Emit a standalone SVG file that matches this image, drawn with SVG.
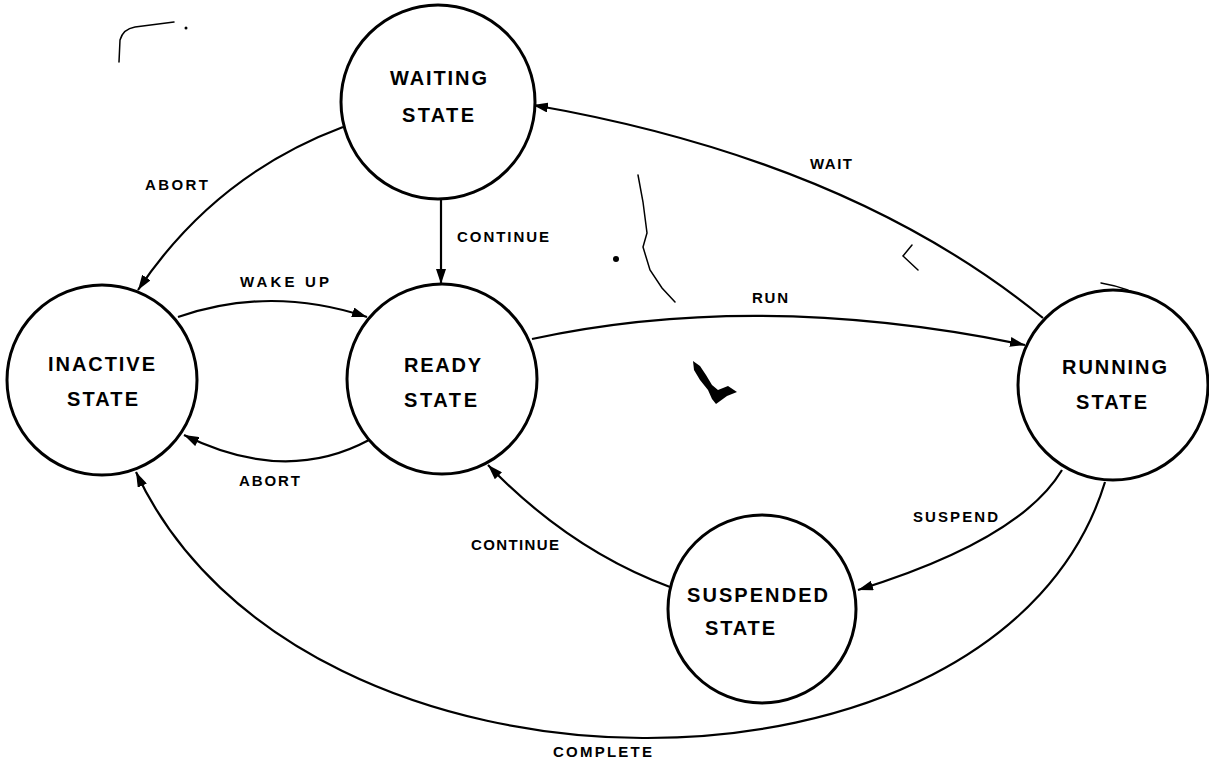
<svg xmlns="http://www.w3.org/2000/svg" width="1209" height="763" viewBox="0 0 1209 763">
  <defs>
    <marker id="arrow" markerUnits="userSpaceOnUse" markerWidth="16" markerHeight="10" refX="15" refY="5" orient="auto">
      <path d="M0,0 L15,5 L0,10 z" fill="#000"/>
    </marker>
    <style>
      .node circle { fill: #fff; stroke: #000; stroke-width: 3; }
      .node text { font-family: "Liberation Sans", Arial, sans-serif; font-size: 20px; font-weight: bold; fill: #000; }
      .edge { fill: none; stroke: #000; stroke-width: 2.2; marker-end: url(#arrow); }
      .label { font-family: "Liberation Sans", Arial, sans-serif; font-size: 15px; font-weight: bold; fill: #000; }
      .mark { fill: none; stroke: #000; stroke-width: 1.5; stroke-linecap: round; }
    </style>
  </defs>
  <rect width="1209" height="763" fill="#fff"/>

  <g id="scan-marks">
    <path class="mark" d="M119,62 L120,40 Q123,29 135,27 L174,22" stroke-width="2.5"/>
    <circle cx="186" cy="28" r="1.5" fill="#000"/>
    <path class="mark" d="M638,175 L643,202 L647,233 L643,247 L650,270 L662,288 L675,302" stroke-width="1.2"/>
    <circle cx="616" cy="259" r="3" fill="#000"/>
    <path class="mark" d="M912,245 L903,256 L918,270"/>
    <path d="M693,361 L700,366 L706,375 L712,385 L718,390 L728,386 L737,392 L727,396 L716,404 L712,399 L708,390 L700,380 L694,370 z" fill="#000"/>
    <path class="mark" d="M1101,283 Q1130,288 1147,300 L1193,372" stroke-width="2"/>
    <circle cx="1193" cy="371" r="2.5" fill="#000"/>
  </g>

  <g id="connectors">
    <path id="e-abort-top" class="edge" d="M343,127 Q215,175 138,290"/>
    <path id="e-continue-top" class="edge" d="M441,200 L441,284"/>
    <path id="e-wakeup" class="edge" d="M178,317 Q270,285 367,317"/>
    <path id="e-abort-bottom" class="edge" d="M369,440 Q285,485 184,435"/>
    <path id="e-run" class="edge" d="M532,339 Q760,290 1025,345"/>
    <path id="e-wait" class="edge" d="M1043,318 Q850,160 533,105"/>
    <path id="e-suspend" class="edge" d="M1062,470 Q1020,540 858,590"/>
    <path id="e-continue-bottom" class="edge" d="M670,587 Q570,550 488,465"/>
    <path id="e-complete" class="edge" d="M1105,482 C1000,825 300,825 136,472"/>
    <text class="label" x="145" y="190" textLength="63" lengthAdjust="spacing">ABORT</text>
    <text class="label" x="457" y="242" textLength="92" lengthAdjust="spacing">CONTINUE</text>
    <text class="label" x="240" y="287" textLength="89" lengthAdjust="spacing">WAKE UP</text>
    <text class="label" x="810" y="169" textLength="42" lengthAdjust="spacing">WAIT</text>
    <text class="label" x="752" y="303" textLength="36" lengthAdjust="spacing">RUN</text>
    <text class="label" x="239" y="486" textLength="61" lengthAdjust="spacing">ABORT</text>
    <text class="label" x="471" y="550" textLength="88" lengthAdjust="spacing">CONTINUE</text>
    <text class="label" x="913" y="522" textLength="85" lengthAdjust="spacing">SUSPEND</text>
    <text class="label" x="553" y="757" textLength="99" lengthAdjust="spacing">COMPLETE</text>
  </g>

  <g id="node-waiting" class="node">
    <circle cx="438" cy="102" r="97"/>
    <text x="390" y="85" textLength="97" lengthAdjust="spacing">WAITING</text>
    <text x="402" y="122" textLength="72" lengthAdjust="spacing">STATE</text>
  </g>
  <g id="node-inactive" class="node">
    <circle cx="102" cy="380" r="95"/>
    <text x="48" y="371" textLength="107" lengthAdjust="spacing">INACTIVE</text>
    <text x="67" y="406" textLength="71" lengthAdjust="spacing">STATE</text>
  </g>
  <g id="node-ready" class="node">
    <circle cx="442" cy="379" r="95"/>
    <text x="404" y="372" textLength="77" lengthAdjust="spacing">READY</text>
    <text x="404" y="407" textLength="73" lengthAdjust="spacing">STATE</text>
  </g>
  <g id="node-running" class="node">
    <circle cx="1113" cy="385" r="95"/>
    <text x="1062" y="374" textLength="105" lengthAdjust="spacing">RUNNING</text>
    <text x="1076" y="409" textLength="71" lengthAdjust="spacing">STATE</text>
  </g>
  <g id="node-suspended" class="node">
    <circle cx="762" cy="609" r="94"/>
    <text x="687" y="602" textLength="141" lengthAdjust="spacing">SUSPENDED</text>
    <text x="705" y="635" textLength="70" lengthAdjust="spacing">STATE</text>
  </g>
</svg>
